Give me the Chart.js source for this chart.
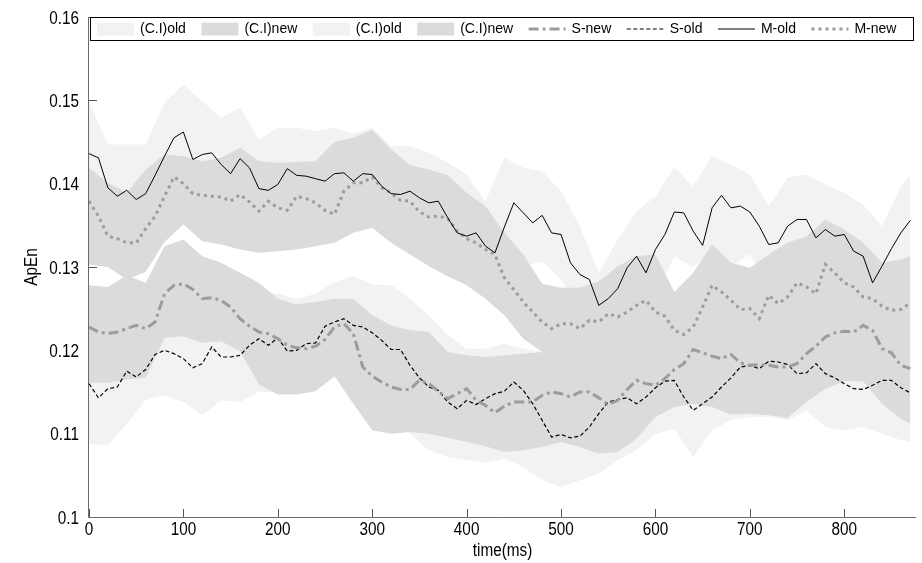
<!DOCTYPE html>
<html lang="en">
<head>
  <meta charset="UTF-8" />
  <title>ApEn over time</title>
  <style>
    body { margin: 0; background: #fff; }
    canvas { display: block; }
  </style>
</head>
<body>
  <canvas id="chart" width="922" height="563"></canvas>

  <script src="https://cdn.jsdelivr.net/npm/chart.js"></script>
  <script>
    // tick labels
    const xTicks = [0, 100, 200, 300, 400, 500, 600, 700, 800];
    const yTicks = [0.1, 0.11, 0.12, 0.13, 0.14, 0.15, 0.16];

    // sample times (ms) for the mean curves
    const timeLine = [0,10,20,30,40,50,60,70,80,90,100,110,120,130,140,150,160,170,180,190,
      200,210,220,230,240,250,260,270,280,290,300,310,320,330,340,350,360,370,380,390,
      400,410,420,430,440,450,460,470,480,490,500,510,520,530,540,550,560,570,580,590,
      600,610,620,630,640,650,660,670,680,690,700,710,720,730,740,750,760,770,780,790,
      800,810,820,830,840,850,860,870];

    const mOld = [0.1436,0.1431,0.1395,0.1385,0.1392,0.1381,0.1388,0.1410,0.1433,0.1455,
      0.1462,0.1429,0.1435,0.1437,0.1423,0.1412,0.1430,0.1419,0.1394,0.1392,
      0.1399,0.1418,0.1410,0.1409,0.1406,0.1403,0.1412,0.1413,0.1403,0.1412,
      0.1411,0.1397,0.1388,0.1387,0.1391,0.1383,0.1377,0.1379,0.1359,0.1341,
      0.1337,0.1341,0.1325,0.1317,0.1348,0.1377,0.1365,0.1353,0.1362,0.1341,
      0.1339,0.1305,0.1291,0.1285,0.1254,0.1262,0.1274,0.1299,0.1313,0.1293,
      0.1321,0.1339,0.1366,0.1365,0.1343,0.1326,0.1371,0.1386,0.1371,0.1373,
      0.1366,0.1349,0.1327,0.1329,0.1349,0.1357,0.1357,0.1335,0.1345,0.1337,
      0.1339,0.1319,0.1313,0.1281,0.1301,0.1322,0.1341,0.1356];

    const mNew = [0.1379,0.1361,0.1337,0.1334,0.1329,0.1329,0.1346,0.1361,0.1385,0.1408,
      0.1400,0.1388,0.1386,0.1385,0.1384,0.1379,0.1387,0.1378,0.1367,0.1379,
      0.1371,0.1368,0.1385,0.1382,0.1377,0.1368,0.1363,0.1391,0.1401,0.1401,
      0.1408,0.1395,0.1389,0.1380,0.1379,0.1366,0.1360,0.1361,0.1358,0.1343,
      0.1334,0.1329,0.1321,0.1315,0.1287,0.1273,0.1258,0.1246,0.1234,0.1226,
      0.1232,0.1232,0.1226,0.1236,0.1234,0.1244,0.1240,0.1246,0.1254,0.1260,
      0.1246,0.1241,0.1224,0.1219,0.1228,0.1252,0.1278,0.1270,0.1260,0.1249,
      0.1250,0.1238,0.1266,0.1256,0.1264,0.1281,0.1276,0.1268,0.1303,0.1293,
      0.1281,0.1276,0.1264,0.1262,0.1253,0.1248,0.1249,0.1257];

    const sNew = [0.1228,0.1222,0.1220,0.1222,0.1226,0.1230,0.1226,0.1234,0.1268,0.1278,
      0.1280,0.1273,0.1262,0.1263,0.1260,0.1252,0.1238,0.1229,0.1222,0.1220,
      0.1214,0.1206,0.1203,0.1202,0.1205,0.1213,0.1228,0.1232,0.1220,0.1180,
      0.1169,0.1162,0.1156,0.1153,0.1153,0.1164,0.1160,0.1151,0.1142,0.1148,
      0.1154,0.1140,0.1134,0.1125,0.1133,0.1138,0.1138,0.1138,0.1146,0.1150,
      0.1148,0.1144,0.1150,0.1150,0.1143,0.1135,0.1140,0.1153,0.1164,0.1160,
      0.1158,0.1166,0.1177,0.1184,0.1201,0.1197,0.1193,0.1190,0.1195,0.1185,
      0.1182,0.1183,0.1182,0.1180,0.1180,0.1184,0.1196,0.1205,0.1216,0.1221,
      0.1223,0.1222,0.1230,0.1224,0.1202,0.1197,0.1182,0.1178];

    const sOld = [0.1160,0.1143,0.1154,0.1156,0.1175,0.1168,0.1177,0.1195,0.1200,0.1196,
      0.1190,0.1179,0.1184,0.1204,0.1192,0.1192,0.1194,0.1206,0.1214,0.1206,
      0.1215,0.1199,0.1200,0.1208,0.1209,0.1229,0.1234,0.1238,0.1230,0.1228,
      0.1221,0.1212,0.1201,0.1201,0.1182,0.1167,0.1156,0.1152,0.1138,0.1130,
      0.1140,0.1135,0.1142,0.1148,0.1151,0.1162,0.1152,0.1136,0.1116,0.1096,
      0.1099,0.1095,0.1097,0.1108,0.1124,0.1138,0.1141,0.1143,0.1136,0.1144,
      0.1155,0.1163,0.1164,0.1144,0.1128,0.1136,0.1144,0.1156,0.1167,0.1180,
      0.1182,0.1178,0.1187,0.1186,0.1183,0.1172,0.1173,0.1184,0.1172,0.1167,
      0.1160,0.1154,0.1153,0.1158,0.1164,0.1164,0.1155,0.1149];

    // sample times (ms) for the confidence bands
    const timeBand = [0,20,40,60,80,100,120,140,160,180,200,220,240,260,280,300,320,340,360,380,
      400,420,440,460,480,500,520,540,560,580,600,620,640,660,680,700,720,740,760,780,
      800,820,840,860,870];

    const mOldHi = [0.1499,0.1447,0.1447,0.1447,0.1497,0.1519,0.1499,0.1479,0.1491,0.1453,
      0.1467,0.1467,0.1463,0.1467,0.1460,0.1467,0.1445,0.1445,0.1437,0.1425,
      0.1411,0.1379,0.1431,0.1419,0.1415,0.1391,0.1349,0.1293,0.1333,0.1367,
      0.1385,0.1419,0.1397,0.1433,0.1423,0.1411,0.1373,0.1407,0.1411,0.1399,
      0.1389,0.1375,0.1349,0.1397,0.1411];
    const mOldLo = [0.1375,0.1338,0.1335,0.1330,0.1370,0.1400,0.1375,0.1362,0.1368,0.1335,
      0.1340,0.1350,0.1345,0.1350,0.1345,0.1352,0.1330,0.1333,0.1320,0.1302,
      0.1280,0.1268,0.1292,0.1300,0.1307,0.1285,0.1245,0.1205,0.1225,0.1260,
      0.1265,0.1313,0.1300,0.1316,0.1300,0.1316,0.1275,0.1293,0.1300,0.1290,
      0.1285,0.1260,0.1248,0.1285,0.1300];

    const mNewHi = [0.1419,0.1401,0.1389,0.1417,0.1435,0.1433,0.1427,0.1431,0.1443,0.1427,
      0.1425,0.1426,0.1427,0.1450,0.1455,0.1465,0.1441,0.1422,0.1417,0.1410,
      0.1389,0.1373,0.1341,0.1315,0.1280,0.1275,0.1275,0.1283,0.1301,0.1313,
      0.1315,0.1270,0.1293,0.1327,0.1305,0.1299,0.1315,0.1329,0.1337,0.1357,
      0.1345,0.1329,0.1305,0.1309,0.1313];
    const mNewLo = [0.1303,0.1300,0.1285,0.1294,0.1330,0.1351,0.1331,0.1327,0.1321,0.1317,
      0.1319,0.1321,0.1325,0.1329,0.1341,0.1347,0.1329,0.1315,0.1301,0.1289,
      0.1278,0.1262,0.1242,0.1214,0.1198,0.1190,0.1186,0.1185,0.1190,0.1200,
      0.1196,0.1175,0.1180,0.1225,0.1212,0.1200,0.1215,0.1212,0.1228,0.1250,
      0.1232,0.1215,0.1204,0.1200,0.1207];

    const sNewHi = [0.1278,0.1276,0.1290,0.1281,0.1325,0.1333,0.1313,0.1305,0.1293,0.1281,
      0.1262,0.1255,0.1258,0.1262,0.1262,0.1242,0.1230,0.1224,0.1222,0.1198,
      0.1194,0.1192,0.1194,0.1196,0.1198,0.1210,0.1212,0.1208,0.1206,0.1228,
      0.1222,0.1240,0.1265,0.1258,0.1260,0.1247,0.1248,0.1245,0.1262,0.1280,
      0.1288,0.1295,0.1268,0.1248,0.1244];
    const sNewLo = [0.1161,0.1161,0.1165,0.1167,0.1215,0.1217,0.1209,0.1211,0.1199,0.1159,
      0.1147,0.1147,0.1151,0.1169,0.1136,0.1104,0.1100,0.1102,0.1100,0.1095,
      0.1090,0.1085,0.1078,0.1080,0.1084,0.1090,0.1084,0.1076,0.1078,0.1094,
      0.1120,0.1132,0.1136,0.1132,0.1123,0.1124,0.1122,0.1119,0.1138,0.1154,
      0.1163,0.1163,0.1136,0.1118,0.1112];

    const sOldHi = [0.1225,0.1215,0.1235,0.1240,0.1262,0.1255,0.1250,0.1255,0.1258,0.1270,
      0.1268,0.1262,0.1268,0.1282,0.1289,0.1279,0.1278,0.1262,0.1242,0.1218,
      0.1202,0.1202,0.1208,0.1202,0.1198,0.1160,0.1158,0.1185,0.1200,0.1196,
      0.1215,0.1225,0.1190,0.1205,0.1228,0.1242,0.1247,0.1243,0.1233,0.1232,
      0.1220,0.1213,0.1224,0.1215,0.1210];
    const sOldLo = [0.1088,0.1086,0.1112,0.1140,0.1146,0.1138,0.1122,0.1140,0.1138,0.1150,
      0.1150,0.1148,0.1154,0.1169,0.1169,0.1140,0.1115,0.1100,0.1080,0.1072,
      0.1068,0.1065,0.1070,0.1060,0.1044,0.1036,0.1044,0.1052,0.1068,0.1080,
      0.1100,0.1106,0.1072,0.1104,0.1116,0.1120,0.1120,0.1116,0.1128,0.1108,
      0.1104,0.1108,0.1100,0.1092,0.1090];

    const AXIS_FONT = '18px "Liberation Sans", Arial, sans-serif';
    const NARROW = 0.85; // the original uses a condensed face
    const oldFill = '#f2f2f2';
    const newFill = '#dbdbdb';
    const grayLine = '#9c9c9c';

    function pts(xs, ys) {
      return xs.map((x, i) => ({ x: x, y: ys[i] }));
    }

    function lineSet(label, ys, color, width, dash, rank) {
      return {
        label: label, data: pts(timeLine, ys), borderColor: color, borderWidth: width,
        borderDash: dash, borderCapStyle: 'butt', pointRadius: 0, fill: false,
        tension: 0, order: 1, legendRank: rank
      };
    }

    // upper edge fills down to the lower edge that follows it
    function bandSets(label, hi, lo, color, order, rank) {
      return [
        { label: label, data: pts(timeBand, hi), borderWidth: 0, borderColor: 'rgba(0,0,0,0)',
          backgroundColor: color, pointRadius: 0, fill: '+1', tension: 0, order: order, legendRank: rank },
        { label: label + ' low', data: pts(timeBand, lo), borderWidth: 0, borderColor: 'rgba(0,0,0,0)',
          pointRadius: 0, fill: false, tension: 0, order: order }
      ];
    }

    const datasets = [
      lineSet('S-new', sNew, grayLine, 3, [10, 4, 3, 4], 5),
      lineSet('S-old', sOld, '#000', 1.2, [4, 2.5], 6),
      lineSet('M-old', mOld, '#000', 1, [], 7),
      lineSet('M-new', mNew, grayLine, 3, [3, 4], 8),
      ...bandSets('(C.I)new', mNewHi, mNewLo, newFill, 10, 2),
      ...bandSets('(C.I)new', sNewHi, sNewLo, newFill, 10, 4),
      ...bandSets('(C.I)old', mOldHi, mOldLo, oldFill, 20, 1),
      ...bandSets('(C.I)old', sOldHi, sOldLo, oldFill, 20, 3)
    ];

    function narrowText(ctx, text, x, y, align, angle) {
      ctx.save();
      ctx.translate(x, y);
      if (angle) ctx.rotate(angle);
      ctx.scale(NARROW, 1);
      ctx.textAlign = align;
      ctx.fillText(text, 0, 0);
      ctx.restore();
    }

    // MATLAB-like ticks pointing into the plot, axis lines and axis text
    const axisMarks = {
      id: 'axisMarks',
      beforeDatasetsDraw(chart) {
        const { ctx, chartArea: a, scales: { x, y } } = chart;
        ctx.save();
        ctx.strokeStyle = '#555';
        ctx.lineWidth = 1;
        ctx.beginPath();
        xTicks.forEach(v => {
          const px = Math.round(x.getPixelForValue(v)) + 0.5;
          ctx.moveTo(px, a.bottom);
          ctx.lineTo(px, a.bottom - 8);
        });
        yTicks.forEach(v => {
          const py = Math.round(y.getPixelForValue(v)) + 0.5;
          ctx.moveTo(a.left, py);
          ctx.lineTo(a.left + 8, py);
        });
        ctx.stroke();
        ctx.restore();
      },
      afterDatasetsDraw(chart) {
        const { ctx, chartArea: a, scales: { x, y } } = chart;
        ctx.save();
        ctx.strokeStyle = '#6a6a6a';
        ctx.lineWidth = 1;
        ctx.beginPath();
        ctx.moveTo(a.left - 0.5, a.top);
        ctx.lineTo(a.left - 0.5, a.bottom + 0.5);
        ctx.lineTo(a.right, a.bottom + 0.5);
        ctx.stroke();

        ctx.fillStyle = '#000';
        ctx.font = AXIS_FONT;
        ctx.textBaseline = 'alphabetic';
        xTicks.forEach(v => narrowText(ctx, String(v), x.getPixelForValue(v), a.bottom + 18, 'center'));
        yTicks.forEach(v => narrowText(ctx, String(Number(v.toFixed(3))), a.left - 10, y.getPixelForValue(v) + 6.5, 'right'));
        narrowText(ctx, 'time(ms)', (a.left + a.right) / 2, 556, 'center');
        narrowText(ctx, 'ApEn', 37, (a.top + a.bottom) / 2, 'center', -Math.PI / 2);
        ctx.restore();
      }
    };

    // boxed one-row legend across the top of the plot
    const boxLegend = {
      id: 'boxLegend',
      afterDraw(chart) {
        const { ctx, chartArea: a } = chart;
        const items = chart.data.datasets.filter(d => d.legendRank).sort((p, q) => p.legendRank - q.legendRank);
        const top = 17, h = 23, sw = 37, gapText = 6, gapItem = 15.5;
        ctx.save();
        ctx.fillStyle = '#fff';
        ctx.fillRect(a.left + 1, top, a.right - a.left - 3, h);
        ctx.strokeStyle = '#000';
        ctx.lineWidth = 1;
        ctx.strokeRect(a.left + 1.5, top + 0.5, a.right - a.left - 4, h);
        ctx.font = '14px "Liberation Sans", Arial, sans-serif';
        ctx.textBaseline = 'middle';
        const cy = top + h / 2 + 0.5;
        let x = a.left + 8;
        items.forEach(d => {
          if (d.fill) {
            ctx.fillStyle = d.backgroundColor;
            ctx.fillRect(x, cy - 6.5, sw, 13);
          } else {
            ctx.strokeStyle = d.borderColor;
            ctx.lineWidth = d.borderWidth;
            ctx.setLineDash(d.borderDash);
            ctx.beginPath();
            ctx.moveTo(x, cy);
            ctx.lineTo(x + sw, cy);
            ctx.stroke();
            ctx.setLineDash([]);
          }
          ctx.fillStyle = '#000';
          ctx.fillText(d.label, x + sw + gapText, cy);
          x += sw + gapText + ctx.measureText(d.label).width + gapItem;
        });
        ctx.restore();
      }
    };

    new Chart(document.getElementById('chart'), {
      type: 'line',
      data: { datasets: datasets },
      plugins: [axisMarks, boxLegend],
      options: {
        responsive: false,
        animation: false,
        devicePixelRatio: 1,
        layout: { padding: { top: 17, right: 6, bottom: 0, left: 0 } },
        plugins: { legend: { display: false }, tooltip: { enabled: false } },
        scales: {
          x: {
            type: 'linear', min: 0, max: 876,
            grid: { display: false, drawTicks: false },
            border: { display: false },
            ticks: { display: false },
            afterFit: s => { s.height = 46; }
          },
          y: {
            type: 'linear', min: 0.1, max: 0.16,
            grid: { display: false, drawTicks: false },
            border: { display: false },
            ticks: { display: false },
            afterFit: s => { s.width = 89; }
          }
        }
      }
    });
  </script>
</body>
</html>
